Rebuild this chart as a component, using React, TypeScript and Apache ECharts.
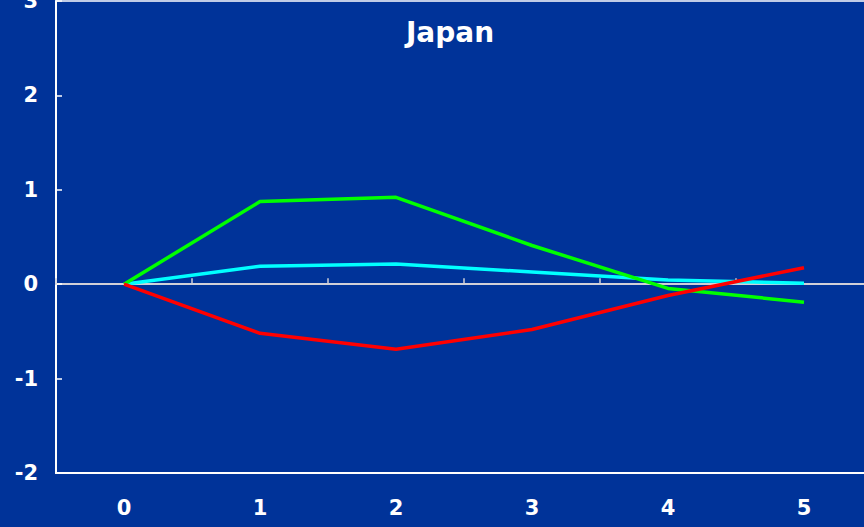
import React, { useEffect, useRef } from "react";
import * as echarts from "echarts";

// Years after the shock
const periods = ["0", "1", "2", "3", "4", "5"];

// Responses by series
const cyanSeries = [0, 0.19, 0.215, 0.13, 0.045, 0.01];
const greenSeries = [0, 0.875, 0.92, 0.41, -0.045, -0.19];
const redSeries = [0, -0.52, -0.69, -0.48, -0.12, 0.175];

const BG = "#003399";
const FONT = "DejaVu Sans, Verdana, sans-serif";

export default function App() {
  const ref = useRef<HTMLDivElement>(null);

  useEffect(() => {
    if (!ref.current) return;
    const chart = echarts.init(ref.current, null, { renderer: "svg" });
    const lineSeries = (data: number[], color: string) => ({
      type: "line",
      data,
      xAxisIndex: 0,
      yAxisIndex: 0,
      symbol: "none",
      lineStyle: { color, width: 3.5 },
      itemStyle: { color },
    });
    chart.setOption({
      animation: false,
      backgroundColor: BG,
      title: {
        text: "Japan",
        left: 450,
        top: 18,
        padding: 0,
        textAlign: "center",
        textStyle: {
          color: "#ffffff",
          fontFamily: FONT,
          fontWeight: "bold",
          fontSize: 28,
        },
      },
      grid: {
        left: 56,
        right: 8,
        top: 1,
        bottom: 54,
        outerBoundsMode: "none",
        containLabel: false,
        show: true,
        borderColor: "#ffffff",
        borderWidth: 1.5,
        backgroundColor: "transparent",
      },
      xAxis: [
        {
          type: "category",
          data: periods,
          position: "bottom",
          axisLine: { onZero: false, lineStyle: { color: "#ffffff", width: 2 } },
          axisTick: { show: false },
          axisLabel: {
            color: "#ffffff",
            fontFamily: FONT,
            fontWeight: "bold",
            fontSize: 21,
            margin: 24,
          },
          splitLine: { show: false },
        },
        {
          type: "category",
          data: periods,
          position: "top",
          axisLine: {
            onZero: true,
            onZeroAxisIndex: 0,
            lineStyle: { color: "#d0d0d8", width: 2 },
          },
          axisTick: {
            show: true,
            inside: false,
            length: 6,
            lineStyle: { color: "#d0d0d8", width: 1.5 },
          },
          axisLabel: { show: false },
          splitLine: { show: false },
        },
      ],
      yAxis: {
        type: "value",
        min: -2,
        max: 3,
        interval: 1,
        axisLine: { show: true, lineStyle: { color: "#ffffff", width: 2 } },
        axisTick: {
          show: true,
          inside: true,
          length: 6,
          lineStyle: { color: "#ffffff", width: 1.5 },
        },
        axisLabel: {
          color: "#ffffff",
          fontFamily: FONT,
          fontWeight: "bold",
          fontSize: 21,
          margin: 18,
        },
        splitLine: { show: false },
      },
      series: [
        lineSeries(cyanSeries, "#00ffff"),
        lineSeries(greenSeries, "#00ff00"),
        lineSeries(redSeries, "#ff0000"),
      ],
    });
    return () => chart.dispose();
  }, []);

  return (
    <div
      ref={ref}
      style={{
        position: "fixed",
        left: 0,
        top: 0,
        width: 880,
        height: 527,
        background: BG,
      }}
    />
  );
}
